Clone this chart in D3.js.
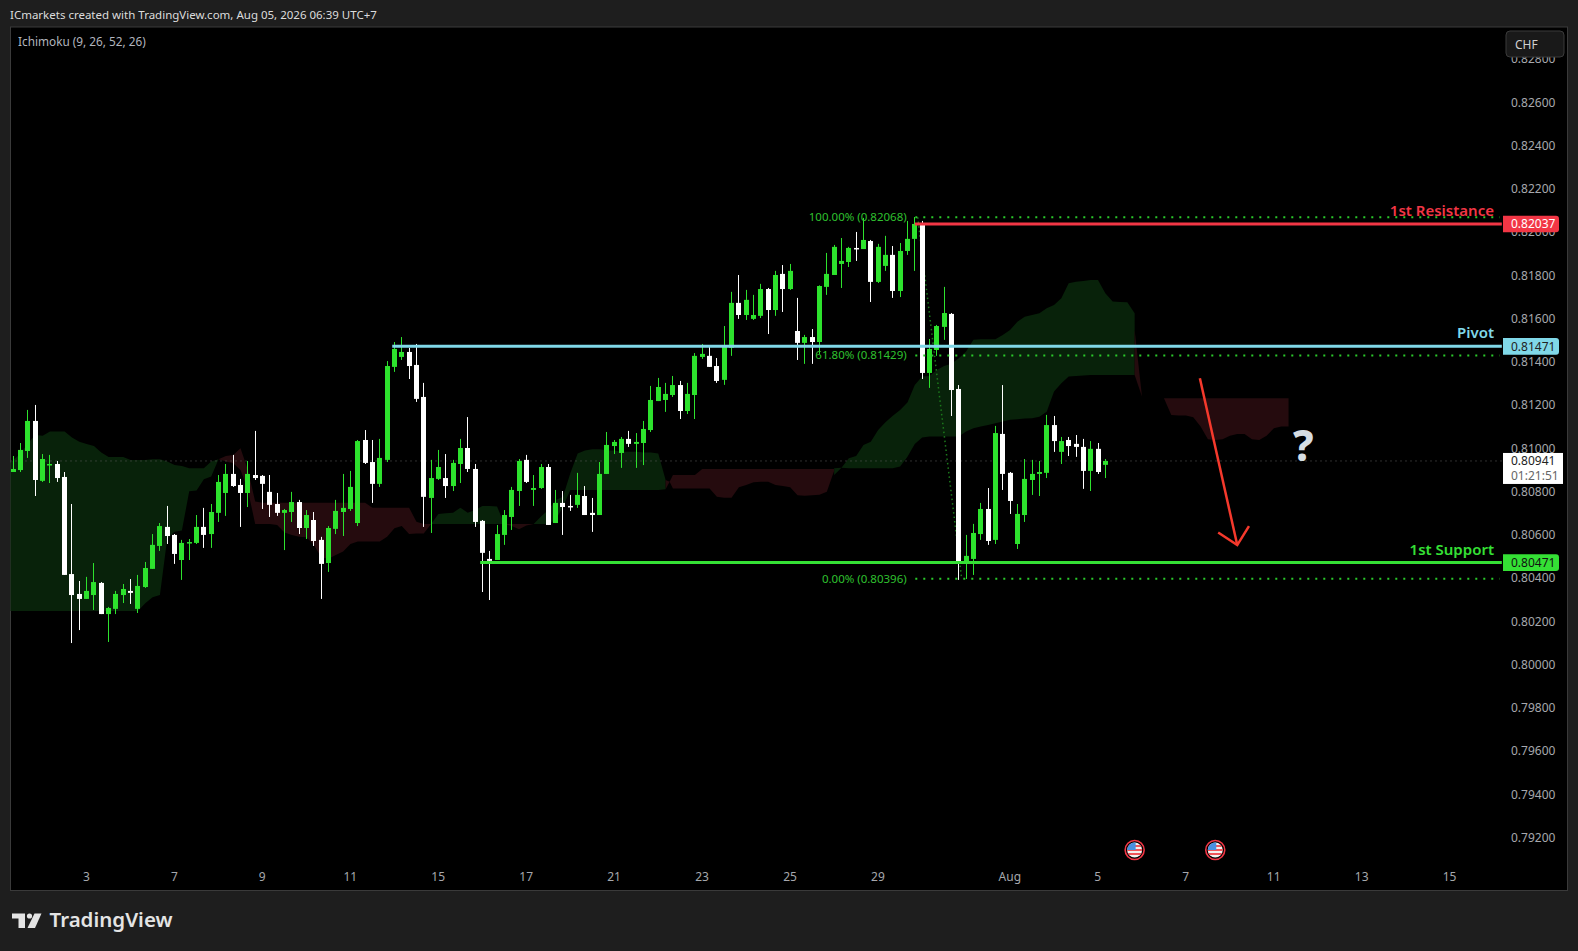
<!DOCTYPE html>
<html>
<head>
<meta charset="utf-8">
<title>CHF 4H</title>
<script src="https://cdn.jsdelivr.net/npm/d3@7"></script>
<style>
	html, body { margin: 0; padding: 0; background: #1e1e1e; }
	svg { display: block; }
	text { font-family: "Noto Sans", sans-serif; }
</style>
</head>
<body>
<svg id="chart" width="1578" height="951"></svg>
<script>
'use strict';

// Candles, oldest first
var opens = [
	.80890,.80899,.80987,.81126,.80849,.80921,.80927,.80867,.80418,.80326,
	.80303,.80321,.80377,.80233,.80257,.80321,.80340,.80257,.80358,.80442,
	.80548,.80636,.80599,.80483,.80562,.80562,.80636,.80603,.80701,.80793,
	.80881,.80830,.80793,.80876,.80872,.80798,.80742,.80701,.80705,.80751,
	.80631,.80668,.80576,.80469,.80627,.80705,.80719,.80654,.81038,.80936,
	.80835,.80946,.81376,.81422,.81445,.81385,.81237,.80770,.80858,.80862,
	.80825,.80927,.81001,.80904,.80664,.80488,.80483,.80599,.80682,.80802,
	.80946,.80807,.80816,.80913,.80654,.80747,.80733,.80738,.80779,.80701,
	.80691,.80881,.81010,.80978,.81043,.81020,.81024,.81084,.81218,.81223,
	.81246,.81292,.81172,.81246,.81422,.81427,.81380,.81316,.81464,.81672,
	.81616,.81598,.81612,.81736,.81639,.81806,.81736,.81542,.81487,.81514,
	.81491,.81746,.81801,.81852,.81861,.81926,.81921,.81958,.81769,.81843,
	.81894,.81727,.81912,.81968,.82037,.81348,.81454,.81561,.81621,.81274,
	.80465,.80488,.80603,.80719,.80576,.81066,.80886,.80557,.80691,.80853,
	.80881,.80886,.81107,.80983,.81038,.81020,.81006,.80895,.80997,.80923
];
var highs = [
	.80964,.81024,.81177,.81200,.80973,.80969,.80941,.80890,.80742,.80386,
	.80405,.80469,.80381,.80266,.80340,.80372,.80395,.80414,.80474,.80603,
	.80654,.80733,.80603,.80576,.80580,.80691,.80724,.80742,.80876,.80927,
	.80969,.80858,.80941,.81080,.80876,.80876,.80793,.80719,.80798,.80761,
	.80714,.80705,.80590,.80640,.80761,.80881,.80895,.81038,.81084,.81038,
	.81043,.81403,.81491,.81514,.81464,.81482,.81302,.80946,.80992,.80973,
	.80946,.81043,.81144,.80927,.80668,.80525,.80645,.80714,.80821,.80950,
	.80969,.80876,.80927,.80927,.80807,.80802,.80784,.80886,.80825,.80770,
	.80936,.81075,.81038,.81052,.81080,.81070,.81126,.81288,.81325,.81302,
	.81334,.81311,.81302,.81440,.81482,.81468,.81417,.81565,.81723,.81801,
	.81732,.81709,.81760,.81741,.81820,.81847,.81852,.81695,.81524,.81551,
	.81753,.81903,.81940,.81972,.81931,.82000,.82065,.81963,.81945,.81982,
	.81935,.81949,.82051,.82069,.82051,.81505,.81570,.81746,.81625,.81292,
	.80599,.80650,.80747,.80816,.81103,.81292,.80890,.80742,.80950,.80946,
	.80941,.81154,.81149,.81052,.81052,.81061,.81043,.81033,.81024,.80950
];
var lows = [
	.80890,.80890,.80955,.80779,.80844,.80839,.80844,.80414,.80099,.80159,
	.80303,.80252,.80233,.80104,.80233,.80284,.80280,.80238,.80354,.80442,
	.80525,.80557,.80465,.80391,.80483,.80557,.80539,.80539,.80659,.80687,
	.80821,.80636,.80728,.80853,.80719,.80682,.80687,.80529,.80659,.80603,
	.80580,.80548,.80303,.80428,.80603,.80594,.80710,.80640,.80927,.80747,
	.80821,.80936,.81353,.81408,.81320,.81214,.80636,.80608,.80853,.80770,
	.80802,.80839,.80890,.80636,.80335,.80298,.80483,.80553,.80622,.80733,
	.80839,.80733,.80812,.80645,.80654,.80599,.80710,.80724,.80691,.80613,
	.80691,.80881,.80973,.80909,.81006,.80909,.80922,.81075,.81218,.81168,
	.81237,.81135,.81158,.81135,.81413,.81376,.81302,.81293,.81427,.81598,
	.81593,.81593,.81602,.81528,.81612,.81630,.81732,.81408,.81390,.81390,
	.81436,.81709,.81801,.81741,.81838,.81866,.81921,.81676,.81764,.81820,
	.81695,.81699,.81894,.81820,.81320,.81279,.81427,.81501,.81149,.80391,
	.80395,.80414,.80576,.80553,.80557,.80807,.80696,.80534,.80659,.80784,
	.80779,.80862,.80983,.80927,.80964,.80960,.80812,.80802,.80881,.80862
];
var closes = [
	.80904,.80992,.81126,.80853,.80950,.80927,.80862,.80414,.80321,.80303,
	.80340,.80381,.80233,.80261,.80326,.80349,.80331,.80363,.80446,.80553,
	.80640,.80594,.80511,.80562,.80566,.80636,.80599,.80705,.80844,.80881,
	.80825,.80793,.80881,.80862,.80835,.80738,.80701,.80714,.80751,.80631,
	.80691,.80571,.80465,.80631,.80710,.80724,.80821,.81033,.80932,.80835,
	.80955,.81380,.81459,.81445,.81380,.81228,.80775,.80862,.80913,.80825,
	.80932,.81001,.80904,.80659,.80516,.80479,.80603,.80691,.80807,.80941,
	.80844,.80816,.80913,.80645,.80747,.80728,.80728,.80784,.80691,.80691,
	.80881,.81015,.81029,.81043,.81020,.81029,.81089,.81223,.81283,.81251,
	.81292,.81172,.81251,.81427,.81436,.81376,.81311,.81468,.81672,.81616,
	.81686,.81616,.81736,.81639,.81801,.81736,.81820,.81487,.81514,.81491,
	.81750,.81806,.81931,.81866,.81926,.81921,.81963,.81769,.81931,.81894,
	.81727,.81912,.81968,.82037,.81348,.81459,.81565,.81625,.81269,.80465,
	.80502,.80608,.80719,.80571,.81070,.80881,.80756,.80696,.80858,.80881,
	.80890,.81107,.81033,.81033,.81010,.81006,.80895,.80997,.80890,.80941
];

// Ichimoku cloud pieces, upper and lower edge per bar
var green1Bars = d3.range(-1, 29);
var green1Top = [.80915,.80946,.80976,.81023,.81061,.81057,.81077,.81077,.81077,.81050,.81030,.81020,.81010,.80980,.80959,.80959,.80959,.80946,.80946,.80946,.80949,.80949,.80938,.80922,.80918,.80907,.80907,.80907,.80938,.80949];
var green1Bottom = [.80247,.80247,.80247,.80247,.80247,.80247,.80247,.80247,.80247,.80247,.80247,.80247,.80247,.80247,.80247,.80247,.80247,.80247,.80247,.80283,.80311,.80321,.80583,.80614,.80619,.80801,.80804,.80856,.80869,.80949];

var red1Bars = d3.range(28, 58);
var red1Top = [.80949,.80964,.80969,.81000,.80899,.80753,.80748,.80748,.80748,.80748,.80748,.80748,.80748,.80748,.80748,.80748,.80748,.80748,.80748,.80748,.80748,.80725,.80725,.80725,.80725,.80725,.80725,.80660,.80650,.80650];
var red1Bottom = [.80949,.80938,.80930,.80899,.80807,.80650,.80650,.80650,.80645,.80610,.80599,.80591,.80588,.80553,.80496,.80489,.80506,.80522,.80557,.80568,.80568,.80568,.80568,.80591,.80630,.80640,.80603,.80606,.80606,.80650];

var green2Bars = d3.range(57, 68);
var green2Top = [.80650,.80696,.80699,.80702,.80725,.80702,.80714,.80733,.80733,.80730,.80650];
var green2Bottom = [.80650,.80650,.80650,.80650,.80650,.80650,.80650,.80650,.80650,.80650,.80650];

var red2Bars = d3.range(67, 72);
var red2Top = [.80650,.80650,.80650,.80650,.80650];
var red2Bottom = [.80650,.80640,.80625,.80643,.80650];

var green3Bars = d3.range(71, 90);
var green3Top = [.80650,.80684,.80714,.80761,.80776,.80884,.80976,.80989,.80995,.80995,.80989,.80989,.80984,.80984,.80984,.80980,.80980,.80976,.80853];
var green3Bottom = [.80650,.80650,.80650,.80668,.80730,.80807,.80807,.80807,.80807,.80807,.80807,.80807,.80807,.80807,.80807,.80807,.80807,.80807,.80810];

var red3Bars = [89, 89.55].concat(d3.range(90, 113));
var red3Top = [.80853,.80845,.80876,.80876,.80876,.80876,.80904,.80904,.80904,.80904,.80904,.80904,.80904,.80904,.80904,.80904,.80904,.80904,.80904,.80904,.80904,.80904,.80904,.80904,.80904];
var red3Bottom = [.80810,.80845,.80814,.80814,.80814,.80814,.80814,.80814,.80776,.80771,.80771,.80819,.80830,.80842,.80845,.80845,.80830,.80825,.80819,.80782,.80780,.80782,.80785,.80799,.80896];

var green4Bars = d3.range(112, 154);
var green4Top = [.80907,.80910,.80953,.80964,.81015,.81030,.81084,.81120,.81150,.81177,.81211,.81292,.81331,.81334,.81362,.81380,.81390,.81416,.81447,.81501,.81504,.81504,.81504,.81524,.81547,.81585,.81608,.81616,.81624,.81647,.81662,.81693,.81763,.81770,.81773,.81778,.81778,.81716,.81678,.81676,.81675,.81624];
var green4Bottom = [.80876,.80910,.80907,.80907,.80907,.80907,.80907,.80907,.80907,.80915,.80960,.81020,.81050,.81054,.81054,.81054,.81054,.81054,.81077,.81092,.81100,.81107,.81115,.81123,.81131,.81134,.81137,.81138,.81146,.81169,.81262,.81300,.81331,.81334,.81336,.81339,.81339,.81339,.81339,.81339,.81339,.81339];

var red4Bars = [153, 154];
var red4Top = [.81547,.81239];
var red4Bottom = [.81339,.81239];

var red5Bars = d3.range(157, 175);
var red5Top = [.81231,.81231,.81231,.81231,.81231,.81231,.81231,.81231,.81231,.81231,.81231,.81231,.81231,.81231,.81231,.81231,.81231,.81231];
var red5Bottom = [.81231,.81154,.81151,.81151,.81143,.81100,.81041,.81038,.81041,.81057,.81066,.81066,.81041,.81038,.81057,.81092,.81100,.81100];

// Axes
var priceTicks = [.828,.826,.824,.822,.820,.818,.816,.814,.812,.810,.808,.806,.804,.802,.800,.798,.796,.794,.792];
var timeTickBars = [10,22,34,46,58,70,82,94,106,118,136,148,160,172,184,196];
var timeTickLabels = ['3','7','9','11','15','17','21','23','25','29','Aug','5','7','11','13','15'];

// Drawn levels and fibonacci retracement
var levelNames = ['1st Resistance', 'Pivot', '1st Support'];
var levelPrices = [.82037, .81471, .80471];
var levelStartBars = [123, 51.7, 63.7];
var levelColours = ['#f23645', '#80d8e8', '#35e035'];
var levelTextColours = ['#ffffff', '#222222', '#111111'];
var fibPrices = [.82068, .81429, .80396];
var fibLabels = ['100.00% (0.82068)', '61.80% (0.81429)', '0.00% (0.80396)'];
var lastPrice = .80941;
var lastCountdown = '01:21:51';
var eventBars = [153, 164];

// Down arrow, [bar, price]
var arrowStart = [161.9, .81323];
var arrowTip = [167, .80552];
var arrowWingA = [164.4, .80610];
var arrowWingB = [168.6, .80640];

var width = 1578, height = 951;
var plot = { left: 10.5, top: 27, right: 1567.5, bottom: 890.5 };
var level_end_bar = 203.1;

var x_scale = d3.scaleLinear().domain([0, 149]).range([13.33, 1105.33]);
var y_scale = d3.scaleLinear().domain([.814, .806]).range([361.7, 534.7]);

var svg = d3.select('#chart');

svg.append('defs').append('clipPath').attr('id', 'plotClip')
	.append('rect')
	.attr('x', plot.left).attr('y', plot.top)
	.attr('width', plot.right - plot.left).attr('height', plot.bottom - plot.top);

// Frame and plot background
svg.append('rect').attr('width', width).attr('height', height).attr('fill', '#1e1e1e');
svg.append('rect')
	.attr('x', plot.left).attr('y', plot.top)
	.attr('width', plot.right - plot.left).attr('height', plot.bottom - plot.top)
	.attr('fill', '#000000').attr('stroke', '#3a3a3a').attr('stroke-width', 1);

var chart = svg.append('g').attr('clip-path', 'url(#plotClip)');

//===============================================================
// Ichimoku cloud
//===============================================================
var cloud_green = '#08220a', cloud_red = '#250b0e';
var cloud_pieces = [
	[green1Bars, green1Top, green1Bottom, cloud_green],
	[red1Bars, red1Top, red1Bottom, cloud_red],
	[green2Bars, green2Top, green2Bottom, cloud_green],
	[red2Bars, red2Top, red2Bottom, cloud_red],
	[green3Bars, green3Top, green3Bottom, cloud_green],
	[red3Bars, red3Top, red3Bottom, cloud_red],
	[green4Bars, green4Top, green4Bottom, cloud_green],
	[red4Bars, red4Top, red4Bottom, cloud_red],
	[red5Bars, red5Top, red5Bottom, cloud_red]
];
cloud_pieces.forEach(function(piece) {
	var area = d3.area()
		.x(function(d) { return x_scale(piece[0][d]); })
		.y0(function(d) { return y_scale(piece[2][d]); })
		.y1(function(d) { return y_scale(piece[1][d]); });
	chart.append('path')
		.attr('d', area(d3.range(piece[0].length)))
		.attr('fill', piece[3]);
});

// Last price dotted line
chart.append('line')
	.attr('x1', plot.left).attr('x2', 1503)
	.attr('y1', y_scale(lastPrice)).attr('y2', y_scale(lastPrice))
	.attr('stroke', '#5e5e5e').attr('stroke-width', 1).attr('stroke-dasharray', '1 4');

// Fibonacci trend line, dotted between the two swing points
chart.append('line')
	.attr('x1', x_scale(123.4)).attr('y1', y_scale(fibPrices[0]))
	.attr('x2', x_scale(129.4)).attr('y2', y_scale(fibPrices[2]))
	.attr('stroke', '#1c7a1c').attr('stroke-width', 1.5).attr('stroke-dasharray', '1.5 3');

//===============================================================
// Candles
//===============================================================
var bars = d3.range(opens.length);
var bar_width = 5;
function candle_colour(i) { return closes[i] >= opens[i] ? '#2de22d' : '#ffffff'; }

chart.selectAll('rect.wick')
	.data(bars)
	.enter().append('rect')
	.attr('class', 'wick')
	.attr('x', function(i) { return Math.round(x_scale(i) - 0.5); })
	.attr('y', function(i) { return y_scale(highs[i]); })
	.attr('width', 1)
	.attr('height', function(i) { return y_scale(lows[i]) - y_scale(highs[i]); })
	.attr('fill', candle_colour);

chart.selectAll('rect.body')
	.data(bars)
	.enter().append('rect')
	.attr('class', 'body')
	.attr('x', function(i) { return Math.round(x_scale(i) - 0.5) - 2; })
	.attr('y', function(i) { return y_scale(Math.max(opens[i], closes[i])); })
	.attr('width', bar_width)
	.attr('height', function(i) { return Math.max(1.5, Math.abs(y_scale(opens[i]) - y_scale(closes[i]))); })
	.attr('fill', candle_colour);

//===============================================================
// Fibonacci levels and horizontal levels
//===============================================================
fibPrices.forEach(function(price, i) {
	chart.append('line')
		.attr('x1', x_scale(123.07)).attr('x2', x_scale(202.8))
		.attr('y1', y_scale(price)).attr('y2', y_scale(price))
		.attr('stroke', '#2ac92a').attr('stroke-width', 2).attr('stroke-dasharray', '2 6');
	chart.append('text')
		.attr('x', x_scale(121.9)).attr('y', y_scale(price) + 4)
		.attr('text-anchor', 'end').attr('font-size', 11.5)
		.attr('fill', '#2fc02f').text(fibLabels[i]);
});

levelPrices.forEach(function(price, i) {
	chart.append('line')
		.attr('x1', x_scale(levelStartBars[i])).attr('x2', x_scale(level_end_bar))
		.attr('y1', y_scale(price)).attr('y2', y_scale(price))
		.attr('stroke', levelColours[i]).attr('stroke-width', 3);
	chart.append('text')
		.attr('x', 1494).attr('y', y_scale(price) - 8)
		.attr('text-anchor', 'end').attr('font-size', 15).attr('font-weight', 600)
		.attr('fill', levelColours[i]).text(levelNames[i]);
});

// Projected move
var arrow_line = d3.line()
	.x(function(d) { return x_scale(d[0]); })
	.y(function(d) { return y_scale(d[1]); });
chart.append('path')
	.attr('d', arrow_line([arrowStart, arrowTip]))
	.attr('fill', 'none').attr('stroke', '#f5392c').attr('stroke-width', 2.5);
chart.append('path')
	.attr('d', arrow_line([arrowWingA, arrowTip, arrowWingB]))
	.attr('fill', 'none').attr('stroke', '#f5392c').attr('stroke-width', 2.5);
chart.append('text')
	.attr('x', x_scale(176)).attr('y', 461)
	.attr('text-anchor', 'middle').attr('font-size', 42).attr('font-weight', 800)
	.attr('fill', '#d6dde3').text('?');

// Economic event markers
var flag_group = chart.selectAll('g.event')
	.data(eventBars)
	.enter().append('g')
	.attr('class', 'event')
	.attr('transform', function(d) { return 'translate(' + x_scale(d) + ',850)'; });
svg.select('defs').append('clipPath').attr('id', 'flagClip')
	.append('circle').attr('r', 7.5);
flag_group.append('circle').attr('r', 9.5).attr('fill', '#000').attr('stroke', '#f23645').attr('stroke-width', 1.6);
var flag_inner = flag_group.append('g').attr('clip-path', 'url(#flagClip)');
flag_inner.append('rect').attr('x', -8).attr('y', -8).attr('width', 16).attr('height', 16).attr('fill', '#f4f0ee');
[-5, -1, 3].forEach(function(stripe) {
	flag_inner.append('rect').attr('x', -8).attr('y', stripe).attr('width', 16).attr('height', 2).attr('fill', '#f0555a');
});
flag_inner.append('rect').attr('x', -8).attr('y', -8).attr('width', 9).attr('height', 8).attr('fill', '#4a90e0');

//===============================================================
// Axes
//===============================================================
var y_axis = d3.axisRight(y_scale)
	.tickValues(priceTicks)
	.tickSize(0)
	.tickPadding(0)
	.tickFormat(d3.format('.5f'));
var y_axis_g = svg.append('g').attr('transform', 'translate(1511,0)').call(y_axis);
y_axis_g.select('.domain').remove();
y_axis_g.selectAll('text').attr('font-size', 12).attr('fill', '#a6a8ad')
	.style('font-family', '"Noto Sans", sans-serif');

var x_axis = d3.axisBottom(x_scale)
	.tickValues(timeTickBars)
	.tickSize(0)
	.tickPadding(0)
	.tickFormat(function(d) { return timeTickLabels[timeTickBars.indexOf(d)]; });
var x_axis_g = svg.append('g').attr('transform', 'translate(-0.7,872)').call(x_axis);
x_axis_g.select('.domain').remove();
x_axis_g.selectAll('text').attr('font-size', 12).attr('fill', '#a6a8ad')
	.style('font-family', '"Noto Sans", sans-serif');

// Price tags on the axis
levelPrices.forEach(function(price, i) {
	var tag_y = y_scale(price);
	svg.append('path')
		.attr('d', 'M1503,' + (tag_y - 8.3) + 'H1556q3,0 3,3V' + (tag_y + 5.3) + 'q0,3 -3,3H1503Z')
		.attr('fill', levelColours[i]);
	svg.append('text')
		.attr('x', 1511).attr('y', tag_y + 4.2)
		.attr('font-size', 12).attr('fill', levelTextColours[i])
		.text(d3.format('.5f')(price));
});
var last_y = y_scale(lastPrice);
svg.append('rect')
	.attr('x', 1503).attr('y', last_y - 8).attr('width', 60).attr('height', 31).attr('fill', '#ffffff');
svg.append('text')
	.attr('x', 1511).attr('y', last_y + 4.5)
	.attr('font-size', 12).attr('fill', '#222').text(d3.format('.5f')(lastPrice));
svg.append('text')
	.attr('x', 1511).attr('y', last_y + 19)
	.attr('font-size', 12).attr('fill', '#666').text(lastCountdown);

// Currency box
svg.append('rect')
	.attr('x', 1506).attr('y', 31).attr('width', 58).attr('height', 26).attr('rx', 4)
	.attr('fill', '#191919').attr('stroke', '#3a3a3a');
svg.append('text')
	.attr('x', 1515).attr('y', 48.5)
	.attr('font-size', 12).attr('fill', '#d0d0d0').text('CHF');

// Header and legend
svg.append('text')
	.attr('x', 10).attr('y', 19)
	.attr('font-size', 11.5).attr('fill', '#dcdcdc')
	.text('ICmarkets created with TradingView.com, Aug 05, 2026 06:39 UTC+7');
svg.append('text')
	.attr('x', 18).attr('y', 46)
	.attr('font-size', 11.8).attr('fill', '#b2b5be')
	.text('Ichimoku (9, 26, 52, 26)');

// Watermark logo
var logo = svg.append('g').attr('fill', '#e4e4e4');
logo.append('path').attr('d', 'M12,913.5H25V928H18.5V918.5H12Z');
logo.append('circle').attr('cx', 29.5).attr('cy', 916).attr('r', 2.6);
logo.append('path').attr('d', 'M34.5,913.5H41.5L35,928H27.5Z');
logo.append('text')
	.attr('x', 49.5).attr('y', 927)
	.attr('font-size', 20.5).attr('font-weight', 600).attr('fill', '#e4e4e4')
	.text('TradingView');
</script>
</body>
</html>
